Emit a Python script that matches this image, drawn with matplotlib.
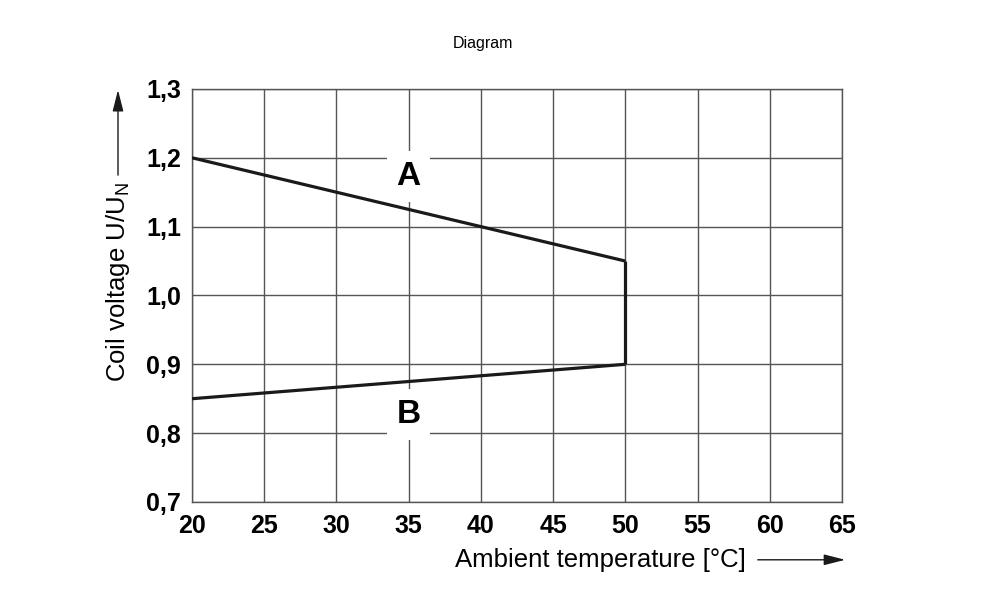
import matplotlib.pyplot as plt
from matplotlib.ticker import FuncFormatter

plt.rcParams['font.family'] = ['Liberation Sans', 'DejaVu Sans']

# curve data: upper limit A, lower limit B, joined at 50 °C
temp_a = [20, 50]
volt_a = [1.2, 1.05]
temp_b = [20, 50]
volt_b = [0.85, 0.9]
temp_edge = [50, 50]
volt_edge = [1.05, 0.9]

x_ticks = [20, 25, 30, 35, 40, 45, 50, 55, 60, 65]
y_ticks = [0.7, 0.8, 0.9, 1.0, 1.1, 1.2, 1.3]

fig = plt.figure(figsize=(10, 5.93), dpi=100)
ax = fig.add_axes([0.192, 0.1535, 0.650, 0.6965])

line_kw = dict(color='#1a1a1a', lw=2.3, solid_capstyle='butt', zorder=3)
ax.plot(temp_a, volt_a, **line_kw)
ax.plot(temp_b, volt_b, **line_kw)
ax.plot(temp_edge, volt_edge, **line_kw)

ax.set_xlim(20, 65)
ax.set_ylim(0.7, 1.3)
ax.set_xticks(x_ticks)
ax.set_yticks(y_ticks)
ax.yaxis.set_major_formatter(FuncFormatter(lambda v, p: f'{v:.1f}'.replace('.', ',')))
ax.grid(True, color='#555555', lw=1.0)
for s in ax.spines.values():
    s.set_color('#555555')
    s.set_linewidth(1.0)
ax.tick_params(length=0, labelsize=18)
ax.tick_params(axis='x', pad=9)
ax.tick_params(axis='y', pad=8)
for lab in ax.get_xticklabels() + ax.get_yticklabels():
    lab.set_fontweight('bold')

# curve names with white boxes over the grid
box = dict(facecolor='white', edgecolor='none', pad=7)
ax.text(35, 1.173, 'A', fontsize=24, fontweight='bold', ha='center', va='center', bbox=box, zorder=4)
ax.text(35, 0.827, 'B', fontsize=24, fontweight='bold', ha='center', va='center', bbox=box, zorder=4)

fig.text(0.483, 0.927, 'Diagram', fontsize=11.5, ha='center', va='center')

# axis labels with arrows
fig.text(0.600, 0.056, 'Ambient temperature [°C]', fontsize=18.5, ha='center', va='center')
fig.add_artist(plt.Annotation('', xy=(0.848, 0.056), xytext=(0.755, 0.056),
                              xycoords='figure fraction',
                              arrowprops=dict(arrowstyle='-|>,head_length=1.3,head_width=0.33',
                                              color='#1a1a1a', lw=1.0)))
fig.text(0.118, 0.525, 'Coil voltage U/U$_\\mathregular{N}$', fontsize=18.5,
         rotation=90, ha='center', va='center')
fig.add_artist(plt.Annotation('', xy=(0.118, 0.853), xytext=(0.118, 0.70),
                              xycoords='figure fraction',
                              arrowprops=dict(arrowstyle='-|>,head_length=1.3,head_width=0.33',
                                              color='#1a1a1a', lw=1.0)))

fig.savefig('out.png', dpi=100)
